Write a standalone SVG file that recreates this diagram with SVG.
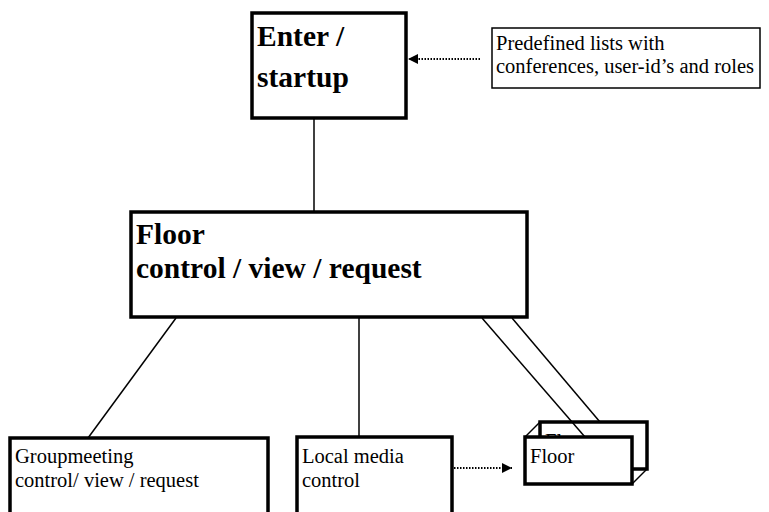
<svg xmlns="http://www.w3.org/2000/svg" width="769" height="512" viewBox="0 0 769 512">
  <style>
    .box { fill: #fff; stroke: #000; stroke-width: 3.5; }
    .thin { fill: #fff; stroke: #000; stroke-width: 1.5; }
    .link { stroke: #000; stroke-width: 1.5; fill: none; }
    .dot { stroke: #000; stroke-width: 2; stroke-dasharray: 1.5 1.5; fill: none; }
    text { font-family: 'Liberation Serif', 'Times New Roman', serif; fill: #000; }
    .big { font-weight: bold; font-size: 29.5px; }
    .small { font-size: 20.5px; }
  </style>
  <defs>
    <marker id="head" viewBox="0 0 10 10" refX="10" refY="5" markerWidth="10" markerHeight="10" markerUnits="userSpaceOnUse" orient="auto">
      <path d="M0,0 L10,5 L0,10 Z" fill="#000"/>
    </marker>
    <!-- only the strip of the back card that the front card leaves uncovered -->
    <clipPath id="behind-front">
      <rect x="540" y="422" width="107" height="15"/>
    </clipPath>
  </defs>

  <g id="enter">
    <rect class="box" x="252" y="13" width="154" height="105"/>
    <text class="big" x="257" y="46">Enter /</text>
    <text class="big" x="257" y="87">startup</text>
  </g>

  <g id="predefined">
    <rect class="thin" x="492" y="28" width="268" height="60"/>
    <text class="small" x="496" y="50">Predefined lists with</text>
    <text class="small" x="496" y="73">conferences, user-id’s and roles</text>
  </g>

  <g id="floor-control">
    <rect class="box" x="131" y="212" width="396" height="105"/>
    <text class="big" x="136" y="244">Floor</text>
    <text class="big" x="136" y="278">control / view / request</text>
  </g>

  <g id="groupmeeting">
    <rect class="box" x="10" y="438" width="258" height="100"/>
    <text class="small" x="15" y="463">Groupmeeting</text>
    <text class="small" x="15" y="487">control/ view / request</text>
  </g>

  <g id="local-media">
    <rect class="box" x="297" y="437" width="155" height="100"/>
    <text class="small" x="302" y="463">Local media</text>
    <text class="small" x="302" y="487">control</text>
  </g>

  <g id="floor-stack">
    <!-- back card, offset up and right -->
    <rect class="box" x="540" y="422" width="107" height="47"/>
    <text class="small" x="545" y="448" clip-path="url(#behind-front)">Floor</text>
    <line class="link" x1="525" y1="437" x2="540" y2="422"/>
    <line class="link" x1="632" y1="484" x2="647" y2="469"/>
    <line class="link" x1="482" y1="318" x2="585" y2="437"/>
    <!-- front card -->
    <rect class="box" x="525" y="437" width="107" height="47"/>
    <text class="small" x="530" y="463">Floor</text>
  </g>

  <g id="connectors">
    <line class="link" x1="314" y1="118" x2="314" y2="212"/>
    <line class="link" x1="176" y1="318" x2="88" y2="438"/>
    <line class="link" x1="359" y1="318" x2="359" y2="437"/>
    <line class="link" x1="512" y1="318" x2="600" y2="422"/>
    <line class="dot" x1="480" y1="59" x2="408" y2="59" marker-end="url(#head)"/>
    <line class="dot" x1="454" y1="468" x2="512" y2="468" marker-end="url(#head)"/>
  </g>
</svg>
